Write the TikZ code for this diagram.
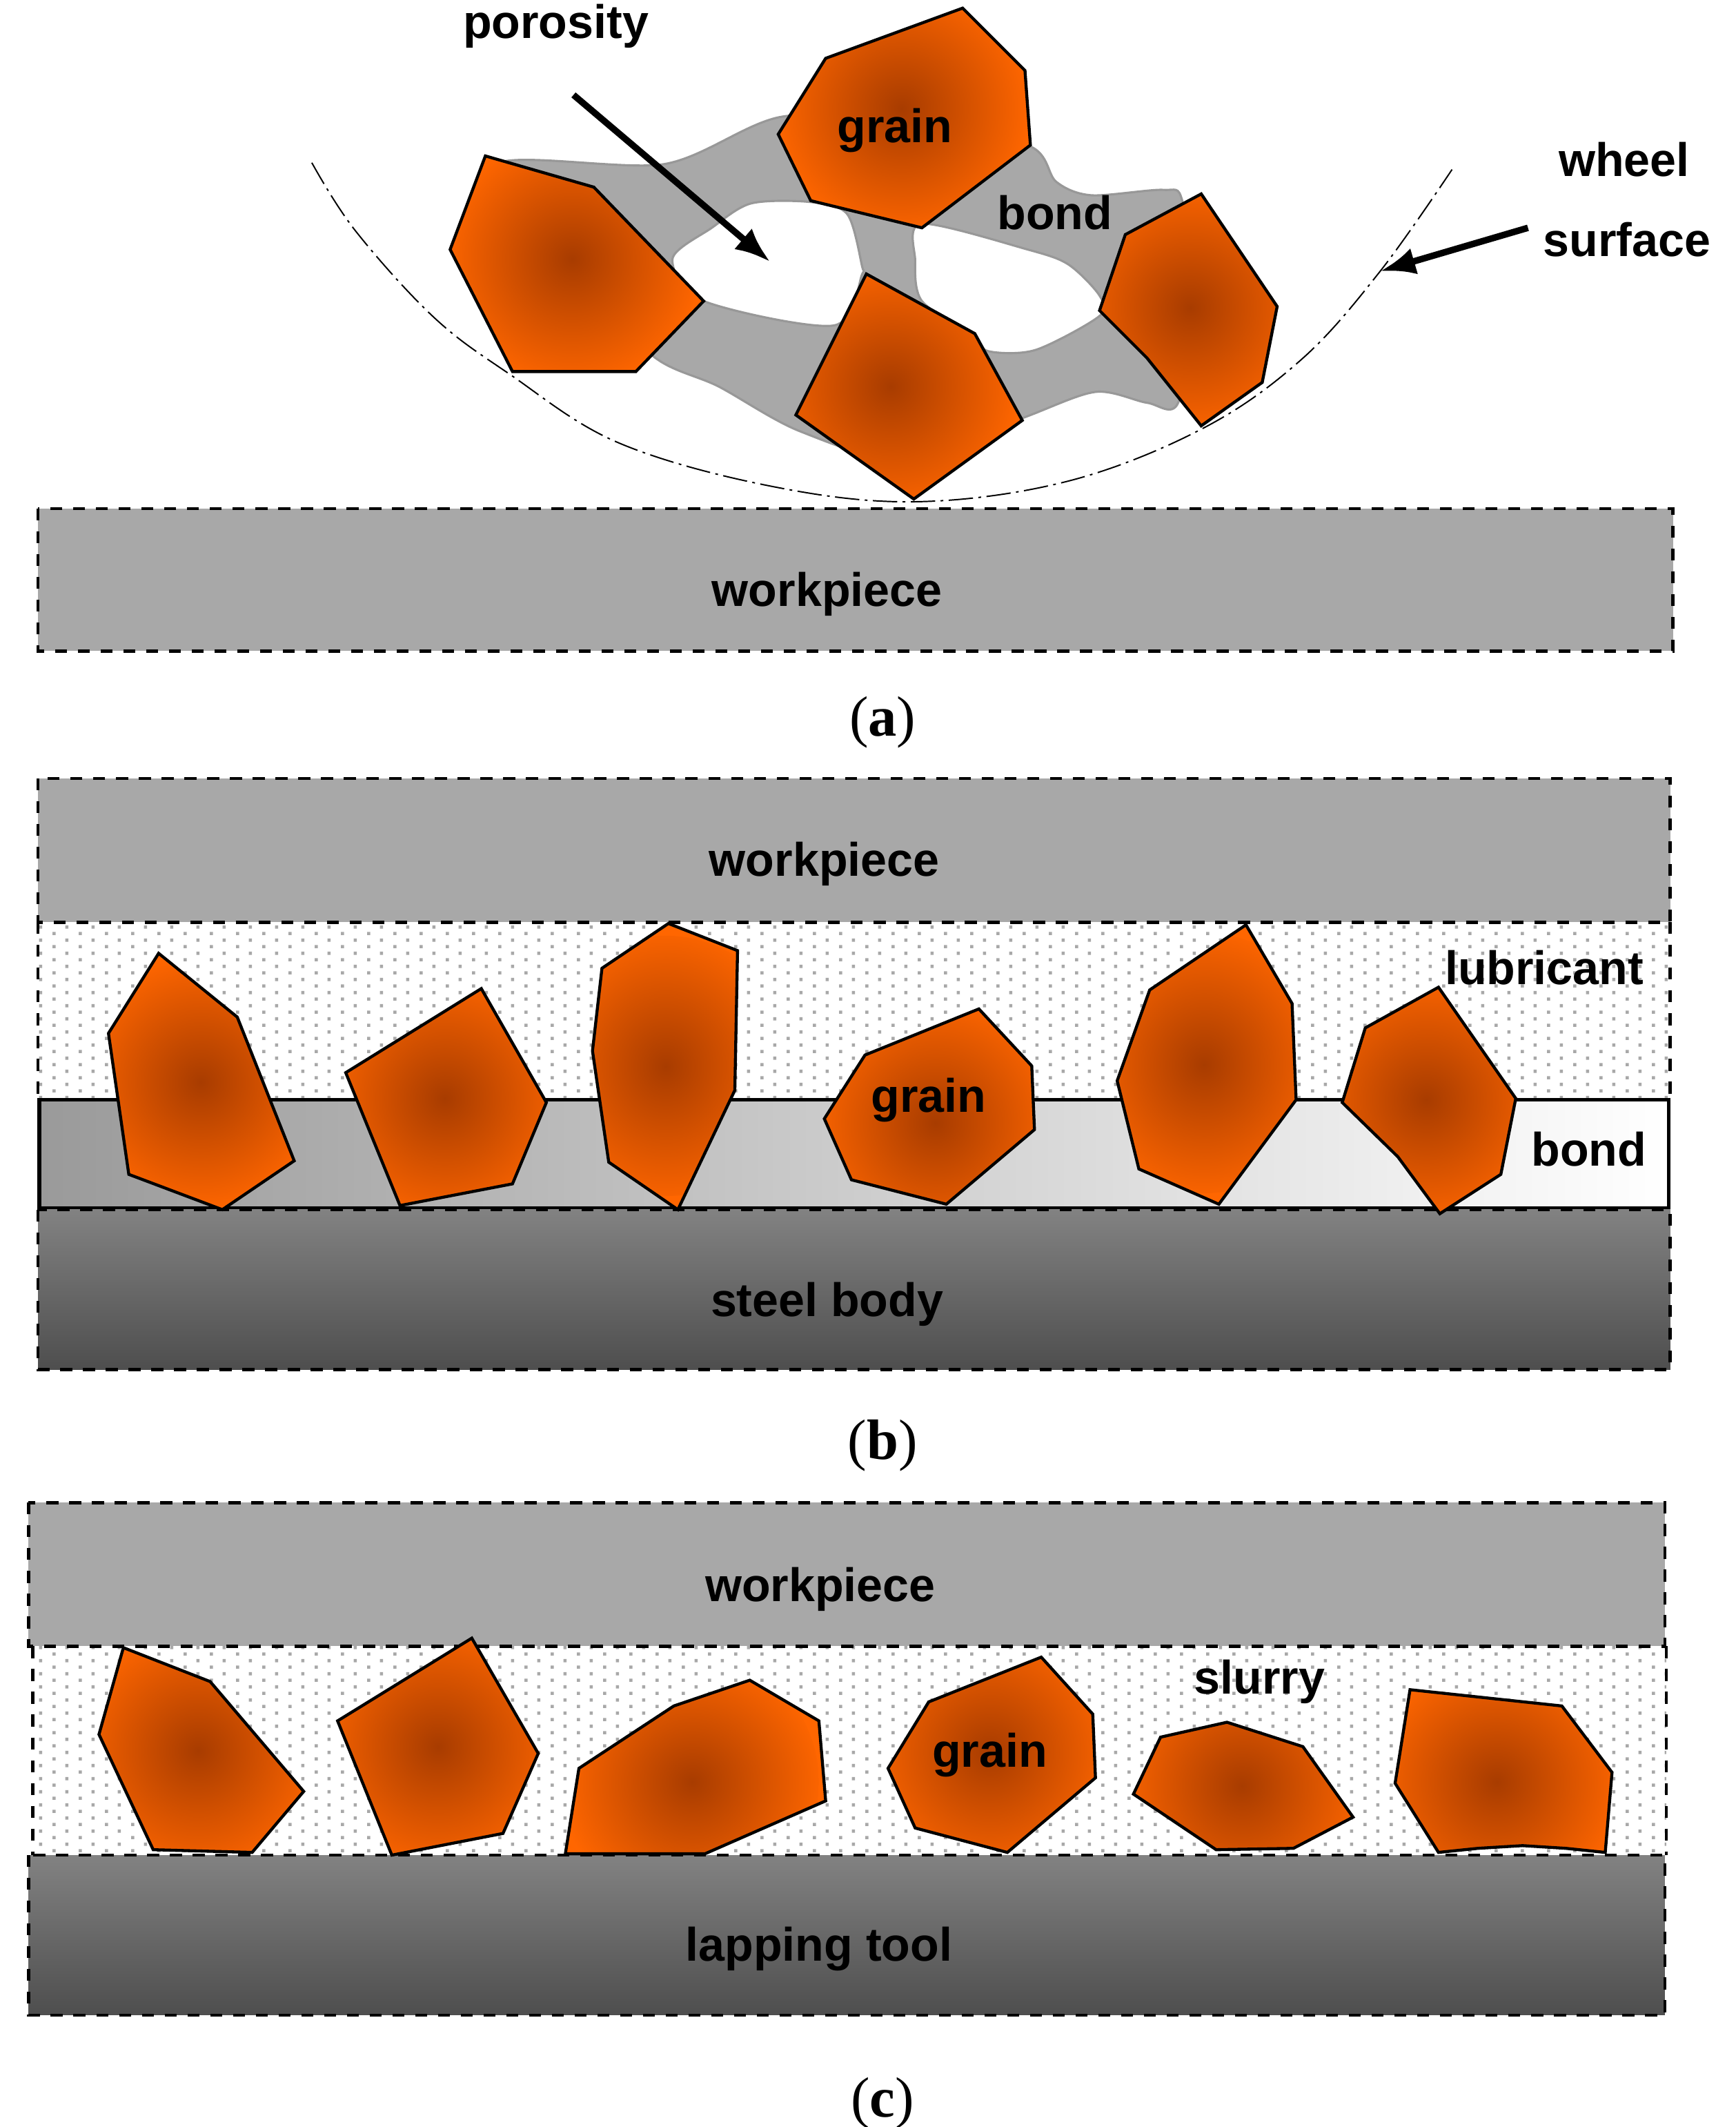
\documentclass[tikz,border=0pt]{standalone}
\usepackage{fontspec}
\usetikzlibrary{arrows.meta, patterns}
\newfontfamily\lblfont{Liberation Sans}
\newfontfamily\capfont{Liberation Serif}
\definecolor{GrainOrange}{HTML}{FF6600}
\definecolor{GrainCore}{HTML}{A83C00}
\definecolor{PieceGray}{HTML}{A8A8A8}
\definecolor{BondEdge}{HTML}{989898}
\definecolor{BondLeft}{HTML}{9A9A9A}
\definecolor{BodyTop}{HTML}{828282}
\definecolor{BodyLow}{HTML}{4E4E4E}
\pgfdeclarepatternformonly{fluiddots}{\pgfqpoint{0pt}{0pt}}{\pgfqpoint{9.67pt}{4.83pt}}{\pgfqpoint{9.67pt}{4.83pt}}{
  \pgfpathrectangle{\pgfqpoint{0pt}{0pt}}{\pgfqpoint{1.2pt}{1.2pt}}
  \pgfpathrectangle{\pgfqpoint{4.83pt}{2.41pt}}{\pgfqpoint{1.2pt}{1.2pt}}
  \pgfusepath{fill}
}
\tikzset{
  lbl/.style={font=\lblfont\bfseries\fontsize{17.35}{20}\selectfont, anchor=base, inner sep=0pt},
  captext/.style={font=\capfont\fontsize{21}{24}\selectfont, anchor=base, inner sep=0pt},
  grainstyle/.style={draw=black, line width=1.1pt, fill=GrainOrange},
  dashbox/.style={draw=black, line width=1.2pt, dash pattern=on 4.4pt off 4pt},
  piece/.style={dashbox, fill=PieceGray},
  fluid/.style={pattern=fluiddots, pattern color=PieceGray},
  bigarrow/.style={draw=black, line width=2.4pt, -{Latex[length=13pt, width=10pt]}},
  wheelline/.style={draw=black, line width=0.5pt, dash pattern=on 9pt off 2pt on 1pt off 2pt}
}
\newcommand{\grainpoly}[2]{
  \draw[grainstyle, path picture={\shade[inner color=GrainCore, outer color=GrainOrange] (#1) circle (96);}] #2;
}
\begin{document}
\begin{tikzpicture}[x=0.5pt, y=-0.5pt]
\useasboundingbox (0,0) rectangle (1280,1568.5);

% (a) wheel
\fill[PieceGray, even odd rule, draw=BondEdge, line width=0.8pt]
  plot[smooth cycle, tension=0.5] coordinates {(365,122) (490,121) (577,86) (680,90) (760,108) (779,134) (805,144) (858,140) (872,148) (880,220) (869,297) (846,297) (808,289) (755,308) (670,340) (590,318) (530,285) (481,262) (430,200)}
  plot[smooth cycle, tension=0.5] coordinates {(496,191) (525,168) (554,150) (598,149) (625,158) (636,197) (636,202) (615,240) (519,222)}
  plot[smooth cycle, tension=0.5] coordinates {(680,165) (758,184) (788,195) (811,218) (811,233) (764,258) (729,259) (717,247) (680,222) (675,192)};
\draw[wheelline] plot[smooth, tension=0.6] coordinates {(230,120) (262,170) (320,234) (376,276) (455,326) (566,358) (674,370) (787,355) (887,316) (960,265) (1018,200) (1071,125)};
\grainpoly{665,80}{(710,6) -- (756,52) -- (760,107) -- (680,168) -- (598,148) -- (574,99) -- (609,43) -- cycle}
\grainpoly{421,191}{(358,115) -- (438,138) -- (519,222) -- (469,274) -- (378,274) -- (332,184) -- cycle}
\grainpoly{656,285}{(639,202) -- (719,246) -- (754,310) -- (674,368) -- (587,306) -- cycle}
\grainpoly{878,227}{(886,143) -- (942,226) -- (931,282) -- (886,314) -- (846,264) -- (811,229) -- (830,173) -- cycle}
\draw[piece] (28,375) rectangle (1234,480);
\coordinate (poretail) at (423,70);
\coordinate (poretip) at (568,193);
\coordinate (wheeltail) at (1127,168);
\coordinate (wheeltip) at (1018,200);
\draw[bigarrow] (poretail) -- (poretip);
\draw[bigarrow] (wheeltail) -- (wheeltip);
\node[lbl] (porelbl) at (410,28) {porosity};
\node[lbl] (graina) at (660,105) {grain};
\node[lbl] (bonda) at (778,169) {bond};
\node[lbl] (wheellbl) at (1198,130) {wheel};
\node[lbl] (surflbl) at (1200,189) {surface};
\node[lbl] (piecea) at (610,447) {workpiece};
\node[captext] (capa) at (651,543) {(\textbf{a})};

% (b) bonded wheel
\fill[white] (28,680) rectangle (1232,811);
\fill[fluid] (28,680) rectangle (1232,811);
\draw[dashbox] (28,680) -- (28,811) (1232,680) -- (1232,811);
\draw[line width=1.3pt, left color=BondLeft, right color=white] (29,811) rectangle (1231,891);
\draw[piece] (28,574) rectangle (1232,680);
\draw[dashbox, top color=BodyTop, bottom color=BodyLow] (28,892) rectangle (1232,1010);
\grainpoly{148,798}{(117,703) -- (175,750) -- (217,856) -- (164,892) -- (95,866) -- (80,762) -- cycle}
\grainpoly{328,810}{(355,729) -- (403,813) -- (378,873) -- (295,889) -- (255,791) -- cycle}
\grainpoly{491,786}{(493,681) -- (544,701) -- (542,804) -- (500,892) -- (449,857) -- (437,775) -- (444,714) -- cycle}
\grainpoly{690,828}{(722,744) -- (761,786) -- (763,833) -- (698,888) -- (628,870) -- (608,825) -- (638,778) -- cycle}
\grainpoly{888,784}{(919,682) -- (953,740) -- (956,811) -- (899,888) -- (840,862) -- (824,797) -- (848,730) -- cycle}
\grainpoly{1052,811}{(1061,728) -- (1118,810) -- (1107,866) -- (1062,895) -- (1031,853) -- (990,813) -- (1007,758) -- cycle}
\node[lbl] (pieceb) at (608,646) {workpiece};
\node[lbl] (lublbl) at (1139,726) {lubricant};
\node[lbl] (grainb) at (685,820) {grain};
\node[lbl] (bondb) at (1172,860) {bond};
\node[lbl] (steellbl) at (610,971) {steel body};
\node[captext] (capb) at (651,1076) {(\textbf{b})};

% (c) lapping
\fill[white] (24,1214) rectangle (1229,1368);
\fill[fluid] (24,1214) rectangle (1229,1368);
\draw[dashbox] (24,1214) -- (24,1368) (1229,1214) -- (1229,1368);
\draw[piece] (21,1108) rectangle (1228,1214);
\draw[dashbox, top color=BodyTop, bottom color=BodyLow] (21,1368) rectangle (1228,1486);
\grainpoly{146,1291}{(91,1215) -- (155,1240) -- (224,1321) -- (186,1366) -- (113,1364) -- (73,1279) -- cycle}
\grainpoly{323,1288}{(348,1208) -- (397,1293) -- (371,1352) -- (289,1368) -- (249,1269) -- cycle}
\grainpoly{508,1314}{(553,1239) -- (604,1269) -- (609,1328) -- (520,1367) -- (417,1367) -- (427,1304) -- (497,1258) -- cycle}
\grainpoly{730,1292}{(768,1222) -- (806,1264) -- (808,1311) -- (743,1366) -- (675,1348) -- (655,1304) -- (685,1255) -- cycle}
\grainpoly{916,1317}{(905,1270) -- (961,1288) -- (998,1340) -- (954,1363) -- (897,1364) -- (836,1323) -- (856,1281) -- cycle}
\grainpoly{1104,1314}{(1040,1246) -- (1152,1258) -- (1189,1307) -- (1184,1366) -- (1155,1363) -- (1123,1361) -- (1090,1363) -- (1061,1366) -- (1029,1315) -- cycle}
\node[lbl] (piecec) at (605,1181) {workpiece};
\node[lbl] (slurrylbl) at (929,1249) {slurry};
\node[lbl] (grainc) at (730,1303) {grain};
\node[lbl] (toollbl) at (604,1446) {lapping tool};
\node[captext] (capc) at (651,1561) {(\textbf{c})};
\end{tikzpicture}
\end{document}
